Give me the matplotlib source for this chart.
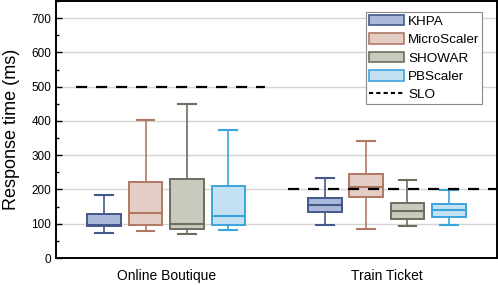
import matplotlib
matplotlib.use("Agg")
import matplotlib.pyplot as plt
from matplotlib.patches import Patch
from matplotlib.lines import Line2D

plt.rcParams['font.family'] = ['Liberation Sans', 'DejaVu Sans']

groups = ["Online Boutique", "Train Ticket"]
methods = ["KHPA", "MicroScaler", "SHOWAR", "PBScaler"]
# per method: [Online Boutique, Train Ticket]
whislo = {"KHPA": [74, 95], "MicroScaler": [79, 84], "SHOWAR": [70, 93], "PBScaler": [81, 95]}
q1 = {"KHPA": [92, 134], "MicroScaler": [95, 179], "SHOWAR": [86, 114], "PBScaler": [95, 119]}
med = {"KHPA": [95, 154], "MicroScaler": [130, 206], "SHOWAR": [99, 137], "PBScaler": [122, 139]}
q3 = {"KHPA": [128, 175], "MicroScaler": [222, 245], "SHOWAR": [232, 161], "PBScaler": [210, 159]}
whishi = {"KHPA": [183, 233], "MicroScaler": [402, 340], "SHOWAR": [448, 227], "PBScaler": [373, 198]}
slo = [500, 200]

edge_colors = ["#44598a", "#b07864", "#6d6e5e", "#3aa5dc"]
fill_colors = ["#aab9d9", "#e3cdc4", "#c9c9bd", "#c3e1f3"]

fig = plt.figure(figsize=(4.98, 2.85), dpi=100)
ax = fig.add_axes([0.1125, 0.0947, 0.8855, 0.9018])

offsets = [-1.5, -0.5, 0.5, 1.5]
step = 0.1875
width = 0.152
for mi, m in enumerate(methods):
    stats = []
    pos = []
    for gi in range(len(groups)):
        stats.append(dict(whislo=whislo[m][gi], q1=q1[m][gi], med=med[m][gi],
                          q3=q3[m][gi], whishi=whishi[m][gi], fliers=[]))
        pos.append(gi + offsets[mi] * step)
    ec = edge_colors[mi]
    ax.bxp(stats, positions=pos, widths=width, patch_artist=True, showfliers=False,
           boxprops=dict(facecolor=fill_colors[mi], edgecolor=ec, linewidth=1.4),
           medianprops=dict(color=ec, linewidth=1.5),
           whiskerprops=dict(color=ec, linewidth=1.2),
           capprops=dict(color=ec, linewidth=1.5),
           capwidths=width * 0.53, zorder=3)

# SLO lines
ax.plot([-0.41, 0.45], [slo[0], slo[0]], color="black", lw=1.6, dashes=(5, 4), zorder=4)
ax.plot([0.553, 1.5], [slo[1], slo[1]], color="black", lw=1.6, dashes=(5, 4), zorder=4)

ax.set_xlim(-0.5, 1.5)
ax.set_ylim(0, 750)
ax.set_xticks(range(len(groups)))
ax.set_xticklabels(groups, fontsize=10)
ax.tick_params(axis='x', length=0, pad=8)
ax.set_yticks(range(0, 701, 100))
ax.set_yticks(range(50, 751, 100), minor=True)
ax.tick_params(axis='y', which='major', direction='in', length=4, width=1, labelsize=8.5)
ax.tick_params(axis='y', which='minor', direction='in', length=2, width=1)
ax.yaxis.grid(True, color="#d4d4d4", lw=1)
ax.set_axisbelow(True)
for s in ax.spines.values():
    s.set_linewidth(1.4)
ax.set_ylabel("Response time (ms)", fontsize=13, labelpad=8)

handles = [Patch(facecolor=fill_colors[i], edgecolor=edge_colors[i], lw=1.2, label=m)
           for i, m in enumerate(methods)]
handles.append(Line2D([], [], color="black", lw=1.5, dashes=(2, 1.5), label="SLO"))
leg = ax.legend(handles=handles, loc="upper right", bbox_to_anchor=(0.966, 0.957),
                fontsize=9.7, fancybox=False, edgecolor="#888888", framealpha=1,
                handlelength=2.6, handleheight=0.85, handletextpad=0.3,
                labelspacing=0.4, borderpad=0.2, borderaxespad=0)
leg.get_frame().set_linewidth(0.8)

fig.savefig("out.png", dpi=100)
